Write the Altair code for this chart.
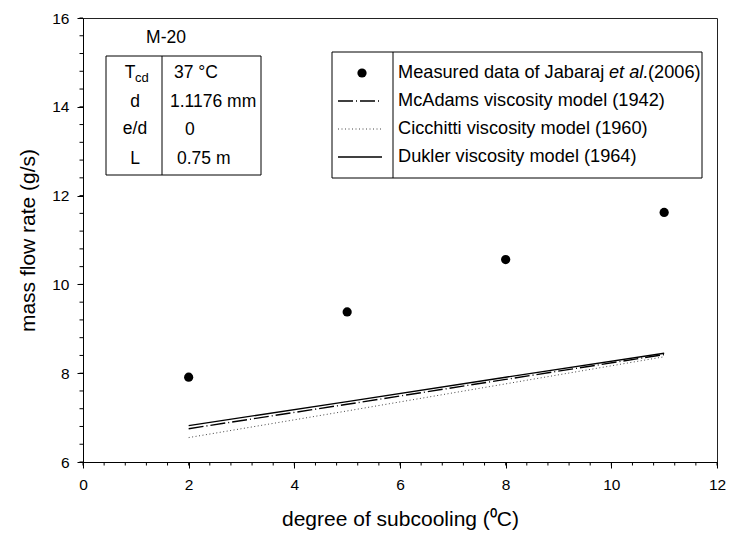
import altair as alt
import pandas as pd

# ---------------- data ----------------
meas_x = [2, 5, 8, 11]
meas_y = [7.91, 9.38, 10.56, 11.62]

model_x = [2, 5, 8, 11]
mcadams_y = [6.75, 7.30, 7.86, 8.42]
cicchitti_y = [6.55, 7.15, 7.76, 8.37]
dukler_y = [6.82, 7.36, 7.91, 8.45]

x_major = [0, 2, 4, 6, 8, 10, 12]
y_major = [6, 8, 10, 12, 14, 16]
x_minor = [0, 0.4, 0.8, 1.2, 1.6, 2, 2.4, 2.8, 3.2, 3.6, 4, 4.4, 4.8, 5.2, 5.6, 6,
           6.4, 6.8, 7.2, 7.6, 8, 8.4, 8.8, 9.2, 9.6, 10, 10.4, 10.8, 11.2, 11.6, 12]
y_minor = [6, 6.4, 6.8, 7.2, 7.6, 8, 8.4, 8.8, 9.2, 9.6, 10, 10.4, 10.8, 11.2, 11.6, 12,
           12.4, 12.8, 13.2, 13.6, 14, 14.4, 14.8, 15.2, 15.6, 16]

legend_labels = ["Measured data of Jabaraj", "et al.", "(2006)",
                 "McAdams viscosity model (1942)",
                 "Cicchitti viscosity model (1960)",
                 "Dukler viscosity model (1964)"]
table_keys = ["d", "e/d", "L"]
table_vals = ["37 °C", "1.1176 mm", "0", "0.75 m"]

FONT = "Liberation Sans"
L0, T0 = 83, 18          # plot-area origin in page pixels
W, H = 634, 444

def px(v):
    return v - L0

def py(v):
    return v - T0

xs = alt.Scale(domain=[0, 12], nice=False, zero=False)
ys = alt.Scale(domain=[6, 16], nice=False, zero=False)

x_ax = alt.Axis(values=x_major, title="degree of subcooling (⁰C)", orient="bottom",
                tickSize=6, labelPadding=9, titlePadding=16, grid=False, format="d",
                labelFlush=False, labelOverlap=False)
y_ax = alt.Axis(values=y_major, title="mass flow rate (g/s)", orient="left",
                tickSize=6, labelPadding=8, titlePadding=13, grid=False, format="d",
                labelFlush=False, labelOverlap=False)

meas_df = pd.DataFrame({"x": meas_x, "y": meas_y})

def model_df(vals):
    return pd.DataFrame({"x": model_x, "y": vals})

points = alt.Chart(meas_df).mark_point(filled=True, shape="circle", size=85,
                                         color="black", opacity=1).encode(
    x=alt.X("x:Q", scale=xs, axis=x_ax),
    y=alt.Y("y:Q", scale=ys, axis=y_ax),
)

# minor ticks (outward), drawn through the scales
x_minor_ticks = alt.Chart(pd.DataFrame({"v": x_minor})).mark_rule(
    color="black", strokeWidth=1).encode(
    x=alt.X("v:Q", scale=xs, axis=None), y=alt.value(H), y2=alt.value(H + 3.5))
y_minor_ticks = alt.Chart(pd.DataFrame({"v": y_minor})).mark_rule(
    color="black", strokeWidth=1).encode(
    y=alt.Y("v:Q", scale=ys, axis=None), x=alt.value(0), x2=alt.value(-3.5))

def line(vals, dash, color="black", width=1.4):
    kw = dict(color=color, strokeWidth=width)
    if dash:
        kw["strokeDash"] = dash
    return alt.Chart(model_df(vals)).mark_line(**kw).encode(
        x=alt.X("x:Q", scale=xs, axis=None),
        y=alt.Y("y:Q", scale=ys, axis=None),
    )

mc_line = line(mcadams_y, [15, 3, 1, 3])
ci_line = line(cicchitti_y, [1, 2.5], color="#444", width=1)
du_line = line(dukler_y, None)

one = pd.DataFrame({"k": [0]})

def box(x1, y1, x2, y2):
    return alt.Chart(one).mark_rect(fill=None, stroke="black", strokeWidth=1).encode(
        x=alt.value(px(x1)), x2=alt.value(px(x2)),
        y=alt.value(py(y1)), y2=alt.value(py(y2)))

def vrule(x, y1, y2):
    return alt.Chart(one).mark_rule(color="black", strokeWidth=1).encode(
        x=alt.value(px(x)), y=alt.value(py(y1)), y2=alt.value(py(y2)))

def hrule(x1, x2, y, dash=None, color="black", width=1.4):
    kw = dict(color=color, strokeWidth=width)
    if dash:
        kw["strokeDash"] = dash
    return alt.Chart(one).mark_rule(**kw).encode(
        x=alt.value(px(x1)), x2=alt.value(px(x2)), y=alt.value(py(y)))

def txt(s, x, y, size=17.5, align="left", style="normal"):
    return alt.Chart(one).mark_text(align=align, baseline="middle", fontSize=size,
                                     font=FONT, fontStyle=style, color="black").encode(
        x=alt.value(px(x)), y=alt.value(py(y)), text=alt.value(s))

# ---- parameter table ----
table = [
    txt("M-20", 166, 38, align="center"),
    box(106, 56, 261, 175),
    vrule(162, 56, 175),
    txt("T", 130, 73, align="center"),
    txt("cd", 135, 78, size=13),
    txt(table_keys[0], 135, 102, align="center"),
    txt(table_keys[1], 135, 129, align="center"),
    txt(table_keys[2], 135, 159, align="center"),
    txt(table_vals[0], 174, 73),
    txt(table_vals[1], 170, 102),
    txt(table_vals[2], 185, 130),
    txt(table_vals[3], 177, 159),
]

# ---- legend ----
LF = 18.2
leg_pt = alt.Chart(one).mark_point(filled=True, shape="circle", size=85, color="black",
                                    opacity=1).encode(x=alt.value(px(362)), y=alt.value(py(73)))
legend = [
    box(332, 52, 702, 178),
    vrule(393, 52, 178),
    leg_pt,
    hrule(338, 382, 101, dash=[15, 3, 1, 3]),
    hrule(338, 382, 129, dash=[1, 2.5], color="#444", width=1),
    hrule(338, 382, 157),
    txt(legend_labels[0], 398, 73, size=LF),
    txt(legend_labels[1], 609, 73, size=LF, style="italic"),
    txt(legend_labels[2], 648, 73, size=LF),
    txt(legend_labels[3], 398, 101, size=LF),
    txt(legend_labels[4], 398, 129, size=LF),
    txt(legend_labels[5], 398, 157, size=LF),
]

chart = alt.layer(points, x_minor_ticks, y_minor_ticks, mc_line, ci_line, du_line,
                  *table, *legend).resolve_axis(
    x="independent", y="independent"
).properties(
    width=W, height=H,
    autosize=alt.AutoSizeParams(type="none"),
    padding={"left": L0, "top": T0, "right": 730 - L0 - W, "bottom": 537 - T0 - H},
    background="white",
).configure_view(
    stroke="#222", strokeWidth=1
).configure_axis(
    domainColor="black", tickColor="black", labelColor="black", titleColor="black",
    labelFont=FONT, titleFont=FONT, labelFontSize=15.5, titleFontSize=21,
    titleFontWeight="normal", domainWidth=1, tickWidth=1
)

chart.save("out.html", embed_options={"renderer": "svg", "actions": False})
